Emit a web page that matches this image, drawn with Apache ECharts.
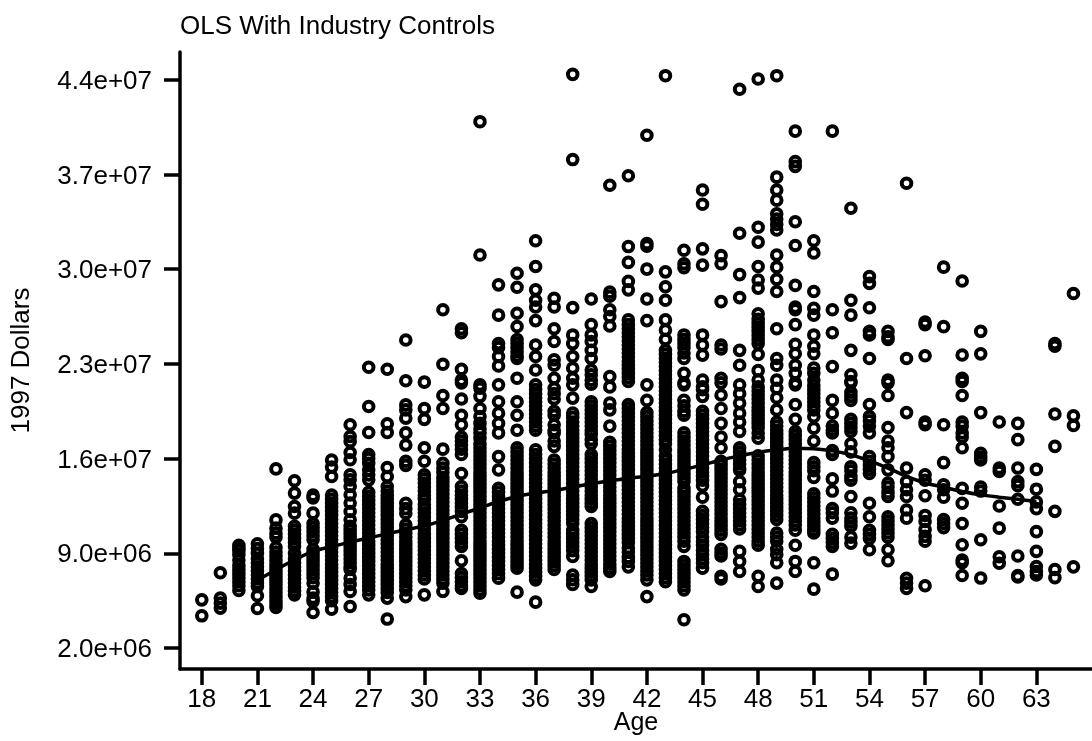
<!DOCTYPE html>
<html><head><meta charset="utf-8">
<style>html,body{margin:0;padding:0;background:#fff}#c{width:1092px;height:741px}</style>
<script src="https://cdn.jsdelivr.net/npm/echarts@6/dist/echarts.min.js"></script>
</head><body><div id="c"></div>
<script>
// Values are millions of 1997 dollars, one list per age.
const a18=[5.56,4.38];
const a19=[7.56,5.69,5.32,4.95];
const a20=[9.6,9.4,9.2,8.9,8.5,8.1,7.8,7.5,7.2,6.9,6.6,6.25];
const a21=[9.7,9.35,9,8.6,8.3,8,7.7,7.4,7.1,6.8,6.55,5.86,4.92];
const a22=[15.24,11.47,10.86,10.49,10.2,9.43,9.1,8.8,8.5,8.2,7.9,7.6,7.3,7,6.7,6.4,6.1,5.8,5.5,5.25,5];
const a23=[14.36,13.45,12.46,11.97,11,10.7,10.4,10.1,9.8,9.5,9,8.6,8.3,8,7.7,7.4,7.1,6.8,6.5,6.2,5.93];
const a24=[13.3,13.1,11.97,11.2,10.9,10.6,10.3,10,9.3,9,8.7,8.4,8.1,7.8,7.5,7.2,6.8,6.15,5.7,5.45,4.63];
const a25=[15.9,15.37,14.68,13.3,13,12.7,12.4,12.1,11.8,11.5,11.2,10.9,10.6,10.3,10,9.7,9.4,9.1,8.8,8.5,8.2,7.9,7.6,7.3,7,6.7,6.4,6.1,5.8,5.5,4.87];
const a26=[18.5,17.63,17.26,16.45,15.91,14.8,14.43,13.94,13.32,12.71,12.09,11.48,11,10.7,10.4,10.1,9.8,9.5,9.2,8.9,8.6,8.3,8,7.8,7.17,6.7,6.18,5.07];
const a27=[22.75,19.85,17.93,16.3,16,15.66,15.17,14.8,14.43,13.5,13.2,12.9,12.6,12.3,12,11.7,11.4,11.1,10.8,10.5,10.2,9.9,9.6,9.3,9,8.7,8.4,8.1,7.8,7.5,7.2,6.9,6.6,6.3,5.93];
const a28=[22.6,18.57,17.93,15.34,14.68,13.94,13.6,13.3,13,12.7,12.4,12.1,11.8,11.5,11.2,10.9,10.6,10.3,10,9.7,9.4,9.1,8.8,8.5,8.2,7.9,7.6,7.3,7,6.7,6.4,6.1,5.69,4.14];
const a29=[24.77,21.75,19.97,19.6,18.99,17.9,17,15.8,15.5,12.7,12.3,11.97,11.1,10.8,10.5,10.2,9.9,9.6,9.3,9,8.7,8.4,8.1,7.8,7.5,7.2,6.9,6.6,6.3,5.8];
const a30=[21.65,19.7,18.9,16.8,15.8,14.8,14.5,14.2,13.9,13.6,13.3,13,12.6,12.3,12,11.7,11.4,11.1,10.8,10.4,10.1,9.8,9.5,9.2,8.9,8.6,8.3,8,7.7,7.4,7.1,5.93];
const a31=[27,22.97,20.66,19.7,16.7,15.66,15.3,15,14.6,14.3,14,13.7,13.4,13.1,12.8,12.5,12.2,11.9,11.6,11.3,11,10.7,10.4,10.1,9.8,9.5,9.2,8.9,8.6,8.3,8,7.7,7.4,7.1,6.8,6.18];
const a32=[25.6,25.3,22.6,21.8,21.6,20.4,19.2,18.5,17.6,17.3,17,16.7,16.3,14.9,13.94,13.6,13.3,13,12.7,12.4,12.1,11.7,10.7,10.4,10.1,9.8,9.5,8.45,7.5,7.2,6.9,6.6,6.4];
const a33=[40.9,31.05,21.45,21.2,20.6,19.7,19.1,18.6,18.2,17.9,17.5,17.1,16.8,16.5,16.2,15.9,15.6,15.3,15,14.7,14.4,14.1,13.8,13.5,13.2,12.9,12.6,12.3,12,11.7,11.4,11.1,10.8,10.5,10.2,9.9,9.6,9.3,9,8.7,8.4,8.1,7.8,7.5,7.2,6.9,6.6,6.3,6.06];
const a34=[28.84,26.6,24.5,24.2,23.55,22.85,21.45,20.2,19.36,18.6,17.9,16.15,15.17,13.8,13.5,13.2,12.9,12.6,12.3,12,11.7,11.4,11.1,10.8,10.5,10.2,9.9,9.6,9.3,9,8.7,8.4,8.1,7.8,7.5,7.16];
const a35=[29.7,28.66,26.74,25.76,24.8,24.5,24.2,23.9,23.6,23.4,21.94,20.2,19.2,18.1,16.8,16.5,16.2,15.9,15.6,15.3,15,14.7,14.4,14.1,13.8,13.5,13.2,12.9,12.6,12.3,12,11.7,11.4,11.1,10.8,10.5,10.2,9.9,9.6,9.3,9,8.7,8.4,8.15,7.9,6.13];
const a36=[32.1,30.2,28.47,27.7,27.2,26.2,24.4,23.55,22.55,21.45,21.1,20.8,20.5,20.2,19.9,19.6,19.3,19,18.7,18.4,18.1,16.65,16.3,16,15.7,15.4,15.1,14.8,14.5,14.2,13.9,13.6,13.3,13,12.7,12.4,12.1,11.8,11.5,11.2,10.9,10.6,10.3,10,9.7,9.4,9.1,8.8,8.5,8.2,7.9,7.6,7.3,7.04,5.39];
const a37=[27.85,27.2,25.6,24.65,23.3,22.9,21.94,21.2,20.8,20.4,19.5,19.2,18.5,18.1,17.9,17.3,16.9,15.9,15.6,15.3,15,14.7,14.4,14.1,13.8,13.5,13.2,12.9,12.6,12.3,12,11.7,11.4,11.1,10.8,10.5,10.2,9.9,9.6,9.3,9,8.7,8.4,8.1,7.8];
const a38=[44.4,38.1,27.16,25.14,24.5,23.55,22.7,21.94,21.45,20.47,19.36,19.05,18.7,18.4,18.1,17.8,17.5,17.2,16.9,16.6,16.3,16,15.7,15.4,15.1,14.8,14.5,14.2,13.9,13.6,13.3,13,12.7,12.4,12.1,11.8,11.5,11.2,10.7,10.4,10.1,9.8,9.5,9.2,8.77,7.4,7.05,6.7];
const a39=[27.8,25.9,25.14,24.65,24,23.4,22.55,22.2,21.8,21.5,20.2,19.9,19.6,19.3,19,18.7,18.4,18.1,17.8,17.4,17.1,16.3,16,15.7,15.4,15.1,14.8,14.5,14.2,13.9,13.6,13.3,13,12.7,12.46,11.2,10.9,10.6,10.3,10,9.7,9.4,9.1,8.8,8.5,8.2,7.9,7.6,7.3,7.04,6.55];
const a40=[36.2,28.3,28,27,26.5,25.8,22.06,21.3,20.1,19.6,18.4,17.2,16.9,16.6,16.3,16,15.7,15.4,15.1,14.8,14.5,14.2,13.9,13.6,13.3,13,12.7,12.4,12.1,11.8,11.5,11.2,10.9,10.6,10.3,10,9.7,9.4,9.1,8.8,8.5,8.2,7.9,7.66];
const a41=[36.9,31.67,30.5,29.1,28.47,26.25,25.9,25.6,25.3,25,24.7,24.4,24.1,23.8,23.5,23.2,22.9,22.6,22.3,22,21.7,20,19.7,19.4,19.1,18.8,18.5,18.2,17.9,17.6,17.3,17,16.7,16.4,16.1,15.8,15.5,15.2,14.9,14.6,14.3,14,13.7,13.4,13.1,12.8,12.5,12.2,11.9,11.6,11.3,11,10.7,10.4,10.1,9.8,9.4,9.1,8.7,8.4,8];
const a42=[39.9,31.9,31.7,30,27.8,26.2,21.45,20.3,19.4,19.1,18.8,18.5,18.2,17.9,17.6,17.3,17,16.7,16.4,16.1,15.8,15.5,15.2,14.9,14.6,14.3,14,13.7,13.4,13.1,12.8,12.5,12.2,11.9,11.6,11.3,11,10.7,10.4,10.1,9.8,9.5,9.2,8.9,8.6,8.3,8,7.7,7.4,7.04,5.8];
const a43=[44.3,29.8,28.7,27.7,26.25,25.5,24.8,24,23.7,23.4,23.1,22.8,22.5,22.2,21.9,21.6,21.3,21,20.7,20.4,20.1,19.8,19.5,19.2,18.9,18.6,18.3,18,17.7,17.4,17.1,16.65,16.2,15.9,15.6,15.3,15,14.7,14.4,14.1,13.8,13.5,13.2,12.9,12.6,12.3,12,11.7,11.4,11.1,10.8,10.5,10.2,9.9,9.6,9.3,9,8.7,8.4,8.1,7.8,7.5,7.2,6.9];
const a44=[31.4,30.4,30.1,25.14,24.8,24.5,24.2,23.8,23.4,22.3,21.6,21.45,20.3,19.9,19.5,19.2,17.9,17.6,17.3,17,16.7,16.4,16.1,15.8,15.5,15.2,14.9,14.6,14.3,13.8,13.5,13.2,12.9,12.6,12.3,12,11.7,11.4,11.1,10.8,10.5,10.2,9.9,9.5,8.4,8.1,7.8,7.5,7.2,6.9,6.6,6.3,4.09];
const a45=[35.85,34.8,31.5,30.3,25.14,24.4,23.65,21.8,21.3,21.1,20.6,19.5,19.2,18.9,18.6,18.3,18,17.7,17.4,17.1,16.8,16.5,16.2,15.9,15.6,15.3,15,14.7,14.4,14,13.15,12.1,11.8,11.5,11.2,10.9,10.6,10.2,9.9,9.6,9.2,8.9,8.6,8.3,7.9];
const a46=[31,30.4,27.6,24.4,24.1,21.94,21.6,20.7,19.7,18.6,17.6,16.8,15.8,15.5,15.2,14.9,14.6,14.3,14,13.7,13.4,13.1,12.8,12.5,12.2,11.9,11.6,11.3,11,10.7,10.4,9.3,9,8.8,7.3,7.1];
const a47=[43.3,32.65,29.6,27.9,24,22.9,21.45,20.8,20.1,19.36,18.7,18,16.8,16.5,16.2,15.9,15.6,15.3,15.15,14.3,13.7,12.95,12.6,12.3,12,11.7,11.4,11.1,10.8,9.14,8.4,7.66];
const a48=[44.05,33.1,32,30.2,29.2,28.6,26.7,26.3,26,25.7,25.4,25.1,24.8,24.5,23.7,22.5,21.8,21.3,21,20.7,20.4,20.1,19.8,19.5,19.2,18.9,18.6,18.3,17.9,17.5,16.2,15.9,15.6,15.3,15,14.7,14.4,14.1,13.8,13.5,13.2,12.9,12.6,12.3,12,11.7,11.4,11.1,10.8,10.5,10.2,9.9,9.6,7.3,6.55];
const a49=[44.3,36.8,35.85,35.1,34.1,33.7,33.3,32.9,31.05,30.15,29.25,28.35,25.6,23.4,22.9,21.8,21.2,20.5,19.6,18.7,18.4,18.1,17.8,17.5,17.2,16.9,16.6,16.3,16,15.7,15.4,15.1,14.8,14.5,14.2,13.9,13.6,13.3,13,12.7,12.4,12.1,11.8,11.5,10.5,10.2,9.9,9.3,8.9,8.3,6.8];
const a50=[40.2,37.95,37.6,33.5,31.75,28.8,27.2,27,25.9,24.45,23.75,22.9,22.3,21.6,21.45,20,18.9,18,17.7,17.4,17.1,16.8,16.5,16.2,15.9,15.6,15.3,15,14.7,14.4,14.1,13.8,13.5,13.2,12.9,12.6,12.3,12,11.7,11.4,11.1,10.7,9.6,8.4,7.66];
const a51=[32.1,31.2,28.35,27.1,26.6,25.14,24.3,23.75,22.7,22.3,21.8,21.4,21.1,20.8,20.5,20.2,19.9,19.6,19.1,18.25,17.3,15.7,15.4,15.1,14.6,13.4,13.1,12.8,12.5,12.2,11.9,11.6,11.3,11,10.7,10.5,8.3,6.35];
const a52=[40.2,27,25.3,22.8,20.3,19.36,18.4,18.1,17.9,16.6,16.3,14.5,13.6,12.3,12,11.6,10.4,10.1,9.8,9.5,7.46];
const a53=[34.5,27.7,26.6,24,22.2,21.7,21.6,20.9,20.6,20.3,18.9,18.6,18.3,18,17.1,16.5,15.4,15.1,14.7,14.4,13.2,12,11.6,11.3,11,10.2,9.75];
const a54=[29.45,28.95,27.15,25.4,25.14,23.4,20,19.1,18.8,18.4,17.9,16.15,15.8,15.5,15.2,14.9,12.7,11.7,10.7,10.4,10.1,9.26];
const a55=[25.4,25,24.8,21.8,21.6,20.66,18.3,17.3,16.8,16.15,15.17,14.2,13.9,13.5,13.2,11.7,11.4,11.1,10.8,10.5,10.2,9.26,8.45];
const a56=[36.35,23.4,19.4,15.3,14.3,13.7,13.2,12.2,11.6,7.15,6.8,6.4];
const a57=[26.1,25.9,23.6,18.7,18.5,14.8,14.4,13.25,11.8,11.35,10.75,10.25,9.9,6.6];
const a58=[30.15,25.75,18.5,15.7,14.06,13.7,13.15,11.5,11.2,10.9];
const a59=[29.13,23.66,21.94,21.7,20.66,18.7,18.4,17.9,17.6,16.8,13.8,12.7,11.2,9.63,8.5,8.3,7.36];
const a60=[25.4,23.74,19.4,16.4,16.1,15.9,13.9,13.6,10,7.17];
const a61=[18.7,15.3,15.05,12.5,10.86,8.75,8.27];
const a62=[18.6,17.4,15.3,14.3,14,13,8.8,7.35,7.25];
const a63=[15.2,13.74,12.8,12.3,10.6,9.14,8.03,7.66,7.4];
const a64=[24.5,24.3,19.3,16.9,12.1,7.8,7.2];
const a65=[28.2,19.16,18.45,8];

const ages=[18,19,20,21,22,23,24,25,26,27,28,29,30,31,32,33,34,35,36,37,38,39,40,41,42,43,44,45,46,47,48,49,50,51,52,53,54,55,56,57,58,59,60,61,62,63,64,65];
const valuesByAge=[a18,a19,a20,a21,a22,a23,a24,a25,a26,a27,a28,a29,a30,a31,a32,a33,a34,a35,a36,a37,a38,a39,a40,a41,a42,a43,a44,a45,a46,a47,a48,a49,a50,a51,a52,a53,a54,a55,a56,a57,a58,a59,a60,a61,a62,a63,a64,a65];

const curveAges=[21,22,23,24,25,26,27,28,29,30,31,32,33,34,35,36,37,38,39,40,41,42,43,44,45,46,47,48,49,50,51,52,53,54,55,56,57,58,59,60,61,62,63];
const curveValues=[7,7.78,8.52,9.14,9.5,9.83,10.14,10.44,10.74,11.03,11.43,11.9,12.35,12.83,13.2,13.45,13.64,13.89,14.14,14.36,14.55,14.7,14.9,15.2,15.54,15.9,16.2,16.47,16.65,16.77,16.72,16.57,16.28,15.83,15.3,14.68,14.2,13.89,13.57,13.32,13.15,13,12.83];

const xTicks=[18,21,24,27,30,33,36,39,42,45,48,51,54,57,60,63];
const yTicks=[2e6,9e6,16e6,23e6,30e6,37e6,44e6];
const yTickLabels=['2.0e+06','9.0e+06','1.6e+07','2.3e+07','3.0e+07','3.7e+07','4.4e+07'];

const font='"Liberation Sans",Arial,sans-serif';
const points=[];
ages.forEach((a,i)=>valuesByAge[i].forEach(v=>points.push([a,v*1e6])));
const curve=curveAges.map((a,i)=>[a,curveValues[i]*1e6]);
const axisLine={show:true,onZero:false,lineStyle:{color:'#000',width:3.5}};
const axisTick={show:true,length:16,lineStyle:{color:'#000',width:3.5}};
const chart=echarts.init(document.getElementById('c'),null,{renderer:'canvas'});
chart.setOption({
  animation:false,
  backgroundColor:'#fff',
  title:{text:'OLS With Industry Controls',left:180,top:14,padding:0,textStyle:{fontFamily:font,fontSize:26,fontWeight:'normal',color:'#000'}},
  grid:{left:180,right:0,top:52,bottom:72,containLabel:false,outerBoundsMode:'none'},
  xAxis:{type:'value',min:16.825,max:66,splitLine:{show:false},axisLine,
    axisTick:Object.assign({customValues:xTicks},axisTick),
    axisLabel:{customValues:xTicks,color:'#000',fontFamily:font,fontSize:26,margin:18,showMinLabel:true,showMaxLabel:true},
    name:'Age',nameLocation:'middle',nameGap:42,nameMoveOverlap:false,nameTextStyle:{color:'#000',fontFamily:font,fontSize:25}},
  yAxis:{type:'value',min:450000,max:46050000,splitLine:{show:false},axisLine,
    axisTick:Object.assign({customValues:yTicks},axisTick),
    axisLabel:{customValues:yTicks,color:'#000',fontFamily:font,fontSize:26,margin:28,verticalAlign:'top',lineHeight:4,
      formatter:v=>yTickLabels[yTicks.indexOf(v)]},
    name:'1997 Dollars',nameLocation:'middle',nameRotate:90,nameGap:145,nameMoveOverlap:false,nameTextStyle:{color:'#000',fontFamily:font,fontSize:26}},
  series:[
    {type:'scatter',data:points,symbol:'circle',symbolSize:9.6,silent:true,large:false,
      itemStyle:{color:'rgba(0,0,0,0)',borderColor:'#000',borderWidth:4,opacity:1}},
    {type:'line',data:curve,smooth:0.3,showSymbol:false,silent:true,lineStyle:{color:'#000',width:3.5}}
  ]
});
</script></body></html>
